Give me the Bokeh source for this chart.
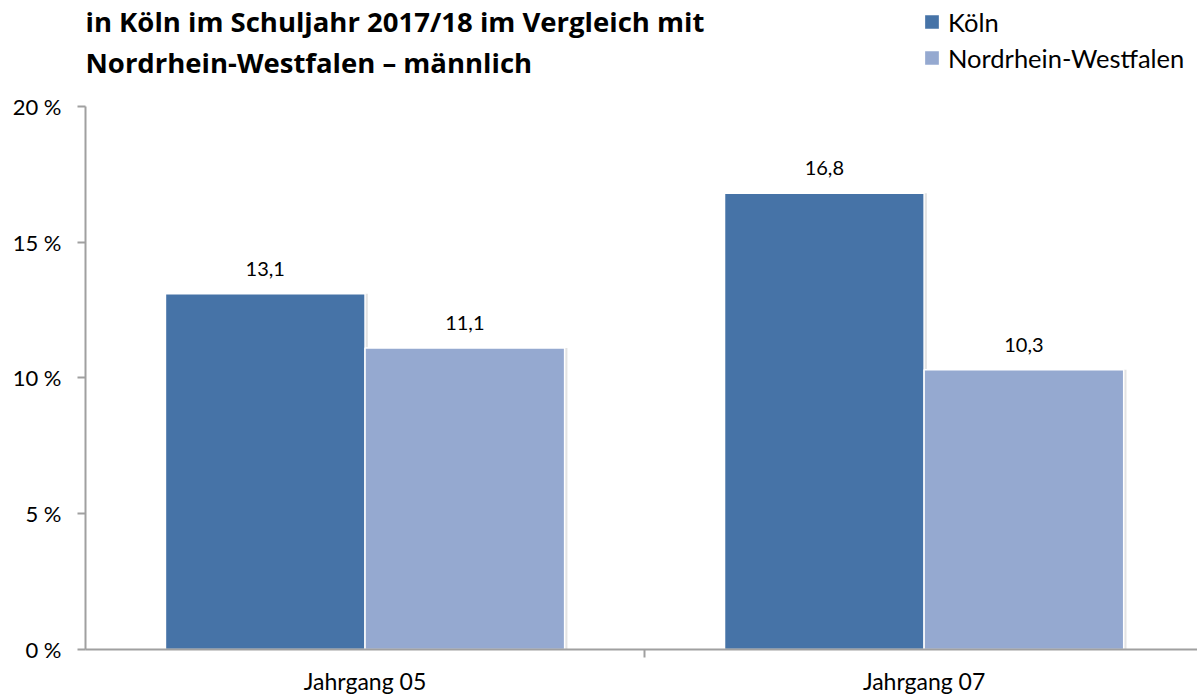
from bokeh.plotting import figure
from bokeh.models import (Range1d, FixedTicker, Label, Legend, LegendItem, ColumnDataSource)
from bokeh.embed import file_html
from bokeh.resources import INLINE
from bokeh.core.properties import value

# ---- data ----
categories = ["Jahrgang 05", "Jahrgang 07"]
series_names = ["Köln", "Nordrhein-Westfalen"]
koeln = [13.1, 16.8]
nrw = [11.1, 10.3]
y_ticks = [0, 5, 10, 15, 20]
y_tick_labels = ["0 %", "5 %", "10 %", "15 %", "20 %"]
title_lines = ["in Köln im Schuljahr 2017/18 im Vergleich mit",
               "Nordrhein-Westfalen – männlich"]

colors = ["#4673A7", "#95A9D0"]
FONT = "Lato"
TITLE_FONT = "Open Sans"

centers = [i + 0.5 for i in range(len(categories))]
bar_w = 0.357
shift = 0.1785

# frame spans the whole height; the y axis is drawn only from 0 to 20
p = figure(width=1197, height=697, output_backend="svg", toolbar_location=None,
           x_range=Range1d(0, 1.989), y_range=Range1d(0, 23.9),
           min_border_left=85, min_border_right=0, min_border_top=0, min_border_bottom=48)
p.outline_line_color = None
p.xgrid.visible = False
p.ygrid.visible = False
p.background_fill_color = "white"

renderers = []
for k, (vals, col) in enumerate(zip([koeln, nrw], colors)):
    xs = [c + (-shift if k == 0 else shift) for c in centers]
    src = ColumnDataSource(dict(x=xs, xs_sh=[x + 0.005 for x in xs], top=vals,
                                label=[f"{v:.1f}".replace(".", ",") for v in vals]))
    # faint shadow
    p.vbar(x="xs_sh", top="top", width=bar_w, bottom=0, source=src,
           fill_color="#C8C8C8", fill_alpha=0.5, line_color=None)
    r = p.vbar(x="x", top="top", width=bar_w, bottom=0, source=src,
               fill_color=col, line_color="white", line_width=1.5)
    renderers.append(r)
    p.text(x="x", y="top", text="label", source=src, y_offset=-25,
           text_align="center", text_baseline="alphabetic",
           text_font=value(FONT), text_font_size="20px", text_color="#000000")

# y axis
ya = p.yaxis[0]
ya.bounds = (0, 20)
ya.ticker = FixedTicker(ticks=y_ticks)
ya.major_label_overrides = {t: l for t, l in zip(y_ticks, y_tick_labels)}
ya.axis_line_color = "#A0A0A0"
ya.axis_line_width = 2
ya.major_tick_line_color = "#A0A0A0"
ya.major_tick_line_width = 2
ya.major_tick_in = 0
ya.major_tick_out = 8
ya.minor_tick_line_color = None
ya.major_label_standoff = 16
ya.major_label_text_font = FONT
ya.major_label_text_font_size = "22px"
ya.major_label_text_color = "#000000"

# x axis
xa = p.xaxis[0]
xa.ticker = FixedTicker(ticks=centers, minor_ticks=[1.0])
xa.major_label_overrides = {c: n for c, n in zip(centers, categories)}
xa.axis_line_color = "#A0A0A0"
xa.axis_line_width = 2
xa.major_tick_line_color = None
xa.major_tick_in = 0
xa.major_tick_out = 8
xa.minor_tick_line_color = "#A0A0A0"
xa.minor_tick_line_width = 2
xa.minor_tick_in = 0
xa.minor_tick_out = 8
xa.major_label_standoff = 9
xa.major_label_text_font = FONT
xa.major_label_text_font_size = "23px"
xa.major_label_text_color = "#000000"

# title lines (screen units relative to frame bottom-left)
for i, line in enumerate(title_lines):
    p.add_layout(Label(x=0, y=628 - i * 41, x_units="screen", y_units="screen",
                       text=line, text_font=TITLE_FONT, text_font_size="27.5px",
                       text_font_style="bold", text_color="#000000",
                       text_baseline="alphabetic", text_align="left"))

legend = Legend(items=[LegendItem(label=n, renderers=[r]) for n, r in zip(series_names, renderers)],
                location=(837, 576), orientation="vertical",
                glyph_width=19, glyph_height=19, label_height=31, spacing=5,
                label_standoff=7, padding=0, margin=0,
                label_text_font=FONT, label_text_font_size="25.5px",
                label_text_color="#000000",
                border_line_color=None, background_fill_alpha=0)
p.add_layout(legend, "center")

open("out.html", "w").write(file_html(p, INLINE))
